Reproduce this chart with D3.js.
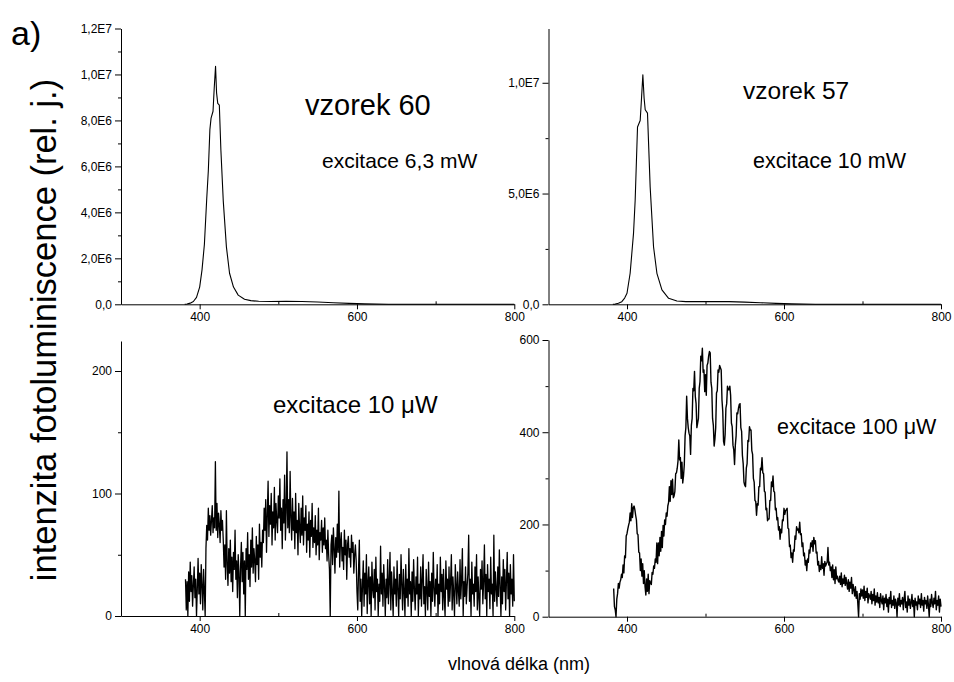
<!DOCTYPE html>
<html>
<head>
<meta charset="utf-8">
<script src="https://cdn.jsdelivr.net/npm/d3@7/dist/d3.min.js"></script>
<style>
  html, body { margin: 0; padding: 0; background: #fff; }
  svg { display: block; font-family: "Liberation Sans", Arial, sans-serif; }
</style>
</head>
<body>
<svg id="chart" width="954" height="682"></svg>
<script>
// ---------------- DATA ----------------
const xTicks = [400, 600, 800];
const xMinorTicks = [500, 700];
const xTickLabels = ["400", "600", "800"];

// Top-left: vzorek 60, excitace 6,3 mW (intensity in units of 1E6)
const s60Nm  = [381, 384, 388, 392, 396, 400, 403, 406, 409, 411, 413, 414.5, 417, 418.5, 420.2, 421.5, 423, 425, 427, 430, 434, 438, 443, 449, 457, 465, 475, 490, 510, 530, 550, 570, 590, 610, 640, 700, 800];
const s60Val = [0, 0.01, 0.05, 0.12, 0.3, 0.75, 1.5, 2.6, 4.6, 5.8, 7.6, 8.1, 8.4, 9.4, 10.36, 9.2, 8.74, 8.67, 6.7, 4.5, 2.5, 1.35, 0.75, 0.4, 0.22, 0.16, 0.13, 0.12, 0.13, 0.12, 0.1, 0.07, 0.04, 0.02, 0.005, 0, 0];
const tlYTicks = [0, 2, 4, 6, 8, 10, 12];
const tlYMinor = [1, 3, 5, 7, 9, 11];
const tlYLabels = ["0,0", "2,0E6", "4,0E6", "6,0E6", "8,0E6", "1,0E7", "1,2E7"];

// Top-right: vzorek 57, excitace 10 mW (units of 1E6)
const s57Nm  = [382, 385, 389, 393.4, 397, 400, 404, 408.3, 410.4, 413.4, 416.8, 418.5, 420.2, 421.8, 423.2, 426.1, 429.5, 433.8, 438.1, 444.5, 453, 463.6, 475, 490, 510, 530, 550, 570, 590, 610, 640, 700, 800];
const s57Val = [0, 0.01, 0.05, 0.12, 0.28, 0.5, 1.4, 3.2, 4.7, 8.0, 8.3, 9.3, 10.36, 9.3, 8.78, 8.63, 5.3, 2.6, 1.4, 0.65, 0.27, 0.15, 0.12, 0.12, 0.12, 0.12, 0.1, 0.07, 0.04, 0.02, 0.005, 0, 0];
const trYTicks = [0, 5, 10];
const trYMinor = [2.5, 7.5];
const trYLabels = ["0,0", "5,0E6", "1,0E7"];

// Bottom-left: excitace 10 µW, one sample per nm starting at 382 nm
const blStartNm = 382;
const blVal = [
  30,5,28,0,36,12,44,20,33,8, 25,40,15,30,0,22,47,18,35,10, 42,25,5,38,20,0,
  55,74,62,88,70,82,66,78,90,68, 80,72,126,70,92,64,84,75,60,86, 70,78,62,
  40,58,30,86,42,25,55,35,62,28, 48,20,52,38,70,30,45,15,50,
  35,0,40,60,28,52,18,45,0,55, 38,68,30,50,24,62,40,72,35,55, 45,28,65,42,58,30,75,48,60,40, 70,
  60,88,70,95,52,82,110,65,90,75, 100,58,85,72,105,62,92,78,68,98, 80,112,70,88,55,95,76,115,62,85, 134,72,95,68,118,
  80,62,96,70,85,55,100,68,78,50, 92,72,60,88,66,98,58,80,70,90, 52,75,62,85,48,78,65,92,56,72, 60,82,50,70,58,88,46,68,62,78, 52,72,58,80,55,
  62,45,70,50,38,0,58,66,42,72, 55,35,64,48,75,52,102,40,60,68, 45,56,38,70,50,62,30,58,65,48, 55,40,66,52,60,35,50,58,45,
  20,5,38,62,12,30,0,25,45,8, 35,18,50,2,28,40,10,32,0,44, 22,15,38,5,48,20,30,0,26,12,
  57,18,35,8,42,25,0,30,15,46, 10,28,52,5,36,20,0,40,18,30, 8,45,22,0,34,14,50,25,5,38,
  20,0,42,15,30,8,55,18,28,0, 36,12,46,22,5,32,18,48,0,26, 14,40,8,30,50,10,24,0,38,20,
  5,44,16,28,0,35,12,52,22,8, 30,18,42,0,26,10,48,20,34,5, 38,15,0,45,22,30,8,40,12,28,
  50,5,32,18,0,42,25,10,36,20, 8,46,14,30,55,0,28,16,40,10, 24,35,66,12,30,0,44,18,26,8,
  40,20,50,5,32,15,0,38,22,45, 10,28,58,14,34,0,42,20,30,6, 48,18,26,0,66,12,36,22,8,40,
  16,54,25,0,32,10,46,20,38,5, 28,52,14,35,0,42,18,30,8,50, 12
];
const blYTicks = [0, 100, 200];
const blYMinor = [50, 150];
const blYLabels = ["0", "100", "200"];

// Bottom-right: excitace 100 µW, one sample per nm starting at 383 nm
const brStartNm = 383;
const brVal = [
  61,22,15,0,38,50,72,
  62,75,80,92,85,112,95,132,128,175,
  180,190,198,205,225,208,245,215,236,240,
  232,220,210,180,178,140,138,100,125,88,
  115,72,100,65,47,82,55,92,50,78,
  72,70,96,92,110,105,125,118,160,115,
  160,132,172,142,185,150,198,175,210,200,
  225,218,240,248,282,250,295,265,298,258,
  262,272,310,312,322,338,383,340,345,300,
  335,290,305,330,392,410,478,430,410,398,
  392,352,415,430,495,490,532,478,462,410,
  420,430,495,510,565,555,582,530,535,488,
  525,480,545,550,565,575,572,508,495,430,
  415,370,385,410,485,490,535,530,545,540,
  535,470,445,380,372,395,452,462,500,492,
  492,500,480,420,412,372,362,330,372,392,
  442,440,452,460,462,410,402,350,332,292,
  285,282,322,332,382,380,412,405,405,360,
  352,300,292,252,250,220,245,242,282,282,
  322,318,345,312,310,272,270,232,235,208,
  212,212,252,252,292,282,305,272,270,232,
  235,210,215,188,195,168,190,182,210,208,
  235,222,230,232,235,192,190,152,155,128,
  138,118,145,142,175,168,195,188,190,182,
  205,178,180,152,160,132,138,112,122,100,
  125,118,145,138,160,152,165,142,172,158,
  165,138,140,112,120,98,111,102,130,105,
  115,90,120,110,115,118,150,112,118,100,
  108,85,112,80,102,72,108,82,88,78,
  75,88,70,95,65,82,72,90,68,85,
  72,60,80,55,75,62,85,50,70,58,
  45,65,40,55,29,0,50,38,60,45,
  58,40,66,35,55,42,62,30,50,45,
  38,55,28,48,35,60,25,45,32,52,
  30,42,20,50,35,28,45,15,40,30,
  48,22,38,10,42,28,55,20,35,25,
  45,18,38,30,0,40,25,50,22,35,
  28,42,15,38,55,20,32,10,45,25,
  38,18,30,48,22,35,0,40,25,32,
  15,45,28,38,20,50,25,35,12,42,
  28,35,18,45,25,0,38,22,48,30,
  20,40,28,55,15,35,25,45,10,38,
  22
];
const brYTicks = [0, 200, 400, 600];
const brYMinor = [100, 300, 500];
const brYLabels = ["0", "200", "400", "600"];

// ---------------- LAYOUT ----------------
const svg = d3.select("#chart");
const FONT_TICK = 12;

const panels = [
  { x0: 121, x1: 514.3, yTop: 28.5, yBot: 304.3, yMax: 12,
    xs: s60Nm, ys: s60Val, yTicks: tlYTicks, yMinor: tlYMinor, yLabels: tlYLabels, lw: 1.1 },
  { x0: 548.5, x1: 941, yTop: 28.5, yBot: 304.3, yMax: 12.45,
    xs: s57Nm, ys: s57Val, yTicks: trYTicks, yMinor: trYMinor, yLabels: trYLabels, lw: 1.1 },
  { x0: 121, x1: 514.3, yTop: 341, yBot: 616, yMax: 224.5,
    xs: blVal.map((_, i) => blStartNm + i), ys: blVal, yTicks: blYTicks, yMinor: blYMinor, yLabels: blYLabels, lw: 1.3 },
  { x0: 548.5, x1: 941, yTop: 340, yBot: 616.7, yMax: 600,
    xs: brVal.map((_, i) => brStartNm + i), ys: brVal, yTicks: brYTicks, yMinor: brYMinor, yLabels: brYLabels, lw: 1.4 }
];

panels.forEach(p => {
  const x = d3.scaleLinear().domain([300, 800]).range([p.x0, p.x1]);
  const y = d3.scaleLinear().domain([0, p.yMax]).range([p.yBot, p.yTop]);
  const g = svg.append("g");

  const pts = p.xs.map((v, i) => [v, p.ys[i]]);
  g.append("path")
    .datum(pts)
    .attr("fill", "none")
    .attr("stroke", "#000")
    .attr("stroke-width", p.lw)
    .attr("stroke-linejoin", "round")
    .attr("d", d3.line().x(d => x(d[0])).y(d => y(d[1])));

  g.append("g").attr("transform", `translate(0,${p.yBot})`)
    .call(d3.axisBottom(x).tickValues(xTicks).tickSizeInner(5).tickSizeOuter(0).tickPadding(3)
      .tickFormat((d, i) => xTickLabels[i]));
  g.append("g").attr("transform", `translate(0,${p.yBot})`)
    .call(d3.axisBottom(x).tickValues(xMinorTicks).tickSizeInner(-3).tickSizeOuter(0).tickFormat(""))
    .call(s => s.select(".domain").remove());

  g.append("g").attr("transform", `translate(${p.x0},0)`)
    .call(d3.axisLeft(y).tickValues(p.yTicks).tickSizeInner(6).tickSizeOuter(0).tickPadding(3)
      .tickFormat((d, i) => p.yLabels[i]));
  g.append("g").attr("transform", `translate(${p.x0},0)`)
    .call(d3.axisLeft(y).tickValues(p.yMinor).tickSizeInner(3).tickSizeOuter(0).tickFormat(""))
    .call(s => s.select(".domain").remove());

  g.selectAll(".tick text")
    .attr("font-size", FONT_TICK)
    .attr("font-family", "'Liberation Sans', Arial, sans-serif")
    .attr("fill", "#000");
  g.selectAll(".domain, .tick line").attr("stroke", "#000");
});

// ---------------- TEXT ----------------
function label(txt, x, y, size, anchor) {
  svg.append("text").attr("x", x).attr("y", y)
    .attr("font-size", size).attr("text-anchor", anchor || "start")
    .attr("fill", "#000").text(txt);
}
label("a)", 11, 45, 34);
label("vzorek 60", 305, 115, 29);
label("excitace 6,3 mW", 322, 168, 21);
label("vzorek 57", 743, 99, 24.5);
label("excitace 10 mW", 753, 168, 21.5);
label("excitace 10 \u03BCW", 273, 413, 24);
label("excitace 100 \u03BCW", 777, 434, 21.5);
label("vlnová délka (nm)", 519, 670, 18, "middle");

svg.append("text")
  .attr("transform", "translate(56,330) rotate(-90)")
  .attr("text-anchor", "middle")
  .attr("font-size", 34.5)
  .attr("fill", "#000")
  .text("intenzita fotoluminiscence (rel. j.)");
</script>
</body>
</html>
